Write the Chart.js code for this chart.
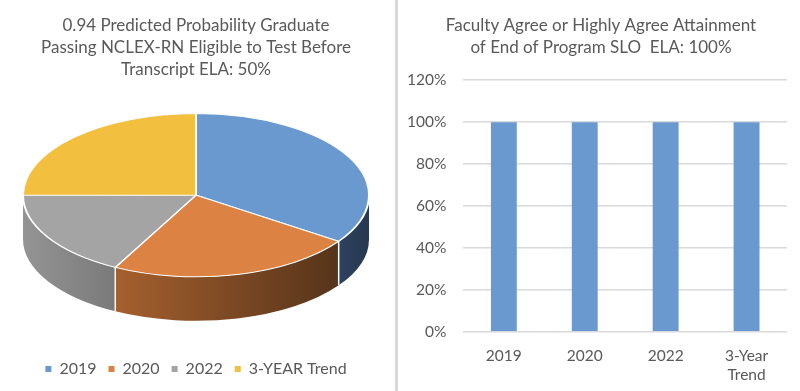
<!DOCTYPE html>
<html>
<head>
<meta charset="utf-8">
<script src="https://cdn.jsdelivr.net/npm/chart.js@4"></script>
<style>
  html, body { margin: 0; padding: 0; background: #fff; }
  #wrap { position: relative; width: 800px; height: 391px; overflow: hidden; }
  #left { position: absolute; left: 0; top: 0; width: 395px; height: 391px; }
  #right { position: absolute; left: 390px; top: 0; width: 422px; height: 391px; }
  #divider { position: absolute; left: 395px; top: 0; width: 3px; height: 391px; background: #d9d9d9; z-index: 2; }
</style>
</head>
<body>
<div id="wrap">
  <div id="left"><canvas id="pie"></canvas></div>
  <div id="right"><canvas id="bar"></canvas></div>
  <div id="divider"></div>
</div>
<script>
// pie: predicted probability by year
const pieLabels = ['2019', '2020', '2022', '3-YEAR Trend'];
const pieValues = [100, 67, 50, 72.3];

// bar: faculty agreement
const barLabels = ['2019', '2020', '2022', ['3-Year', 'Trend']];
const barValues = [1, 1, 1, 1];
const yMax = 1.2;
const yStep = 0.2;

const pieColors = ['#6a99cf', '#dc8243', '#a4a4a4', '#f2bf3f'];
const sideColors = [['#2d4260', '#273850'], ['#a5602e', '#56341a'], ['#949494', '#7a7a7a'], ['#b08a2c', '#8a6a20']];
const FONT = 'Lato, "Open Sans", sans-serif';
const GREY = '#595959';

Chart.defaults.font.family = FONT;
Chart.defaults.color = GREY;

// squash the pie into an ellipse and give it a front wall
const pie3d = {
  id: 'pie3d',
  beforeDatasetsDraw(chart, args, opts) {
    const ctx = chart.ctx;
    const arcs = chart.getDatasetMeta(0).data;
    if (!arcs.length) return;
    const { x, y, outerRadius: r } = arcs[0];
    const k = opts.tilt, depth = opts.depth;
    const cy = y - depth / 2;
    const ry = r * k;
    ctx.save();
    arcs.forEach((arc, i) => {
      const a1 = Math.max(arc.startAngle, 0);
      const a2 = Math.min(arc.endAngle, Math.PI);
      if (a1 >= a2) return;
      const xl = x + r * Math.cos(a2), xr = x + r * Math.cos(a1);
      const g = ctx.createLinearGradient(xl, 0, xr, 0);
      g.addColorStop(0, sideColors[i][0]);
      g.addColorStop(1, sideColors[i][1]);
      ctx.beginPath();
      ctx.ellipse(x, cy, r, ry, 0, a1, a2);
      ctx.ellipse(x, cy + depth, r, ry, 0, a2, a1, true);
      ctx.closePath();
      ctx.fillStyle = g;
      ctx.fill();
    });
    // white seams between wall pieces
    ctx.strokeStyle = '#fff';
    ctx.lineWidth = 1.5;
    arcs.forEach((arc) => {
      const a = arc.endAngle;
      if (a > 0 && a < Math.PI) {
        const px = x + r * Math.cos(a), py = cy + ry * Math.sin(a);
        ctx.beginPath();
        ctx.moveTo(px, py);
        ctx.lineTo(px, py + depth);
        ctx.stroke();
      }
    });
    ctx.restore();
    ctx.save();
    ctx.translate(0, cy);
    ctx.scale(1, k);
    ctx.translate(0, -y);
  },
  afterDatasetsDraw(chart) {
    chart.ctx.restore();
  }
};

new Chart(document.getElementById('pie'), {
  type: 'pie',
  data: {
    labels: pieLabels,
    datasets: [{
      data: pieValues,
      backgroundColor: pieColors,
      borderColor: '#ffffff',
      borderWidth: 2,
      radius: 173,
      clip: false
    }]
  },
  options: {
    responsive: true,
    maintainAspectRatio: false,
    animation: false,
    events: [],
    layout: { padding: { top: 6, bottom: 4, left: 2, right: 5 } },
    plugins: {
      pie3d: { tilt: 0.472, depth: 44 },
      title: {
        display: true,
        text: ['0.94 Predicted Probability Graduate', 'Passing NCLEX-RN Eligible to Test Before', 'Transcript ELA: 50%'],
        color: GREY,
        font: { family: FONT, size: 17, weight: 'normal', lineHeight: 1.3 },
        padding: { top: 8, bottom: 5 }
      },
      legend: {
        position: 'bottom',
        labels: {
          color: GREY,
          font: { family: FONT, size: 16 },
          boxWidth: 6,
          boxHeight: 6,
          padding: 12,
          generateLabels(chart) {
            const items = Chart.overrides.pie.plugins.legend.labels.generateLabels(chart);
            items.forEach((it) => { it.lineWidth = 0; it.strokeStyle = it.fillStyle; });
            return items;
          }
        }
      },
      tooltip: { enabled: false }
    }
  },
  plugins: [pie3d]
});

new Chart(document.getElementById('bar'), {
  type: 'bar',
  data: {
    labels: barLabels,
    datasets: [{
      data: barValues,
      backgroundColor: '#6a99cf',
      categoryPercentage: 0.32,
      barPercentage: 1
    }]
  },
  options: {
    responsive: true,
    maintainAspectRatio: false,
    animation: false,
    events: [],
    layout: { padding: { top: 6, bottom: 0, left: 0, right: 0 } },
    plugins: {
      legend: { display: false },
      tooltip: { enabled: false },
      title: {
        display: true,
        text: ['Faculty Agree or Highly Agree Attainment', 'of End of Program SLO  ELA: 100%'],
        color: GREY,
        font: { family: FONT, size: 17, weight: 'normal', lineHeight: 1.3 },
        padding: { top: 8, bottom: 22 }
      }
    },
    scales: {
      x: {
        grid: { display: false },
        border: { display: false },
        ticks: { color: GREY, font: { family: FONT, size: 15.5 }, padding: 7 }
      },
      y: {
        min: 0,
        max: yMax,
        border: { display: false },
        grid: { color: '#d9d9d9', lineWidth: 1.5, drawTicks: false },
        ticks: {
          stepSize: yStep,
          color: GREY,
          font: { family: FONT, size: 15.5 },
          padding: 17,
          callback: (v) => Math.round(v * 100) + '%'
        }
      },
      // empty right margin so the title centres on the panel like the original
      gutter: {
        type: 'linear',
        position: 'right',
        display: true,
        grid: { display: false },
        border: { display: false },
        ticks: { display: false },
        afterFit(scale) { scale.width = 25; }
      }
    }
  }
});
</script>
</body>
</html>
